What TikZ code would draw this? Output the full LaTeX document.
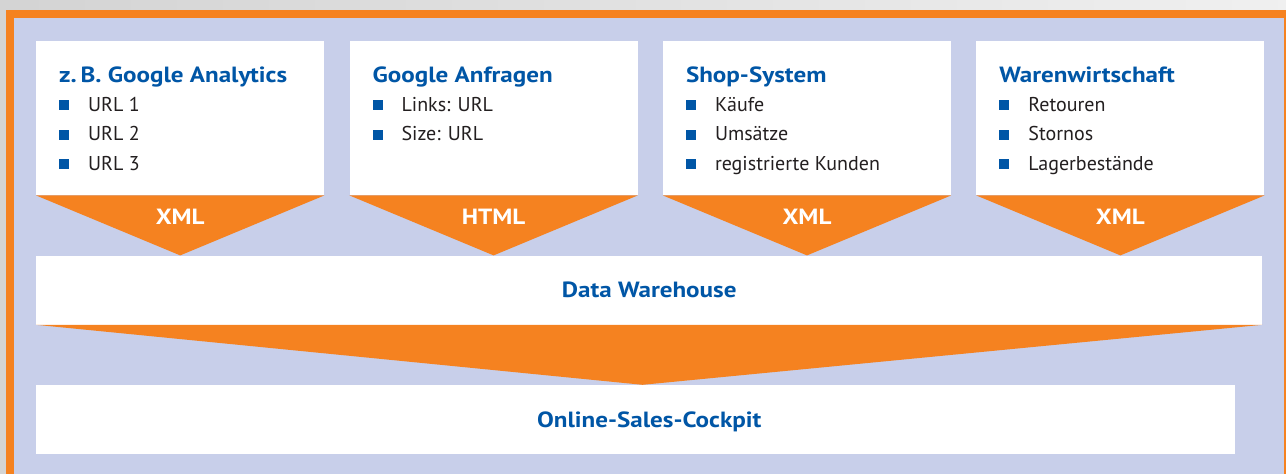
\documentclass[tikz,border=0pt]{standalone}
\usepackage{fontspec}
\setmainfont{PT Sans}
\newfontfamily\headfont{PT Sans}[FakeStretch=1.14]
\usetikzlibrary{positioning,calc}
\definecolor{wborange}{RGB}{245,130,32}
\definecolor{wblilac}{RGB}{200,207,234}
\definecolor{wbblue}{RGB}{0,86,166}
\definecolor{wbtext}{RGB}{35,31,32}
\newcommand{\sqbullet}{\raisebox{1pt}{\textcolor{wbblue}{\rule{10pt}{10pt}}}\hspace{19pt}}
\tikzset{
	source/.style={fill=white,inner sep=0,minimum width=288pt,minimum height=154pt},
	layer/.style={fill=white,inner sep=0,minimum height=69pt,text height=15pt,text depth=0pt,
		font=\headfont\fontsize{22}{26}\selectfont\bfseries,text=wbblue},
	layertext/.style={inner sep=0,text height=15pt,text depth=0pt,
		font=\headfont\fontsize{22}{26}\selectfont\bfseries,text=wbblue},
	heading/.style={inner sep=0,text height=15pt,text depth=5pt,
		font=\headfont\fontsize{22}{26}\selectfont\bfseries,text=wbblue},
	entry/.style={inner sep=0,text height=15pt,text depth=5pt,
		font=\fontsize{20}{24}\selectfont,text=wbtext},
	format/.style={inner sep=0,font=\headfont\fontsize{22}{26}\selectfont\bfseries,text=white},
	funnel/.style={fill=wborange}
}

\begin{document}
\begin{tikzpicture}[x=1pt,y=-1pt]
		\useasboundingbox (0,0) rectangle (1286,474);
		\fill[left color=black!17,right color=black!6] (0,0) rectangle (1286,474);
		\draw[wborange,line width=8pt,fill=wblilac] (10,14) rectangle (1288,490);
		
		% sources
		\node[source,anchor=north west] (ga) at (36,41) {};
		\node[source,right=25pt of ga] (gq) {};
		\node[source,right=25pt of gq] (shop) {};
		\node[source,right=25pt of shop] (ww) {};
		
		\node[layer,minimum width=1226pt,below=60pt of ga.south west,anchor=north west] (dw) {Data Warehouse};
		\node[layer,minimum width=1199pt,below=60pt of dw.south west,anchor=north west] (osc) {};
		\node[layertext] (oscl) at (dw.center |- osc.center) {Online-Sales-Cockpit};
		
		% arrows into the warehouse
		\foreach \s in {ga,gq,shop,ww}
			\fill[funnel] (\s.south west) -- (\s.south east) -- (\s.south |- dw.north) -- cycle;
		\coordinate (apex) at ($(dw.south)!0.5!(osc.north)$);
		\fill[funnel] (dw.south west) -- (dw.south east) -- (apex |- osc.north) -- cycle;
		
		\node[format] (fga) at ([yshift=-21.5pt]ga.south) {XML};
		\node[format] (fgq) at ([yshift=-21.5pt]gq.south) {HTML};
		\node[format] (fshop) at ([yshift=-21.5pt]shop.south) {XML};
		\node[format] (fww) at ([yshift=-21.5pt]ww.south) {XML};
		
		% box contents
		\node[heading,anchor=base west] (gah) at ([shift={(23pt,-41pt)}]ga.north west) {z.\,B. Google Analytics};
		\node[entry,below=9pt of gah.south west,anchor=north west] (ga1) {\sqbullet URL 1};
		\node[entry,below=9pt of ga1.south west,anchor=north west] (ga2) {\sqbullet URL 2};
		\node[entry,below=9pt of ga2.south west,anchor=north west] (ga3) {\sqbullet URL 3};
		
		\node[heading,anchor=base west] (gqh) at ([shift={(23pt,-41pt)}]gq.north west) {Google Anfragen};
		\node[entry,below=9pt of gqh.south west,anchor=north west] (gq1) {\sqbullet Links: URL};
		\node[entry,below=9pt of gq1.south west,anchor=north west] (gq2) {\sqbullet Size: URL};
		
		\node[heading,anchor=base west] (shoph) at ([shift={(23pt,-41pt)}]shop.north west) {Shop-System};
		\node[entry,below=9pt of shoph.south west,anchor=north west] (shop1) {\sqbullet Käufe};
		\node[entry,below=9pt of shop1.south west,anchor=north west] (shop2) {\sqbullet Umsätze};
		\node[entry,below=9pt of shop2.south west,anchor=north west] (shop3) {\sqbullet registrierte Kunden};
		
		\node[heading,anchor=base west] (wwh) at ([shift={(23pt,-41pt)}]ww.north west) {Warenwirtschaft};
		\node[entry,below=9pt of wwh.south west,anchor=north west] (ww1) {\sqbullet Retouren};
		\node[entry,below=9pt of ww1.south west,anchor=north west] (ww2) {\sqbullet Stornos};
		\node[entry,below=9pt of ww2.south west,anchor=north west] (ww3) {\sqbullet Lagerbestände};
\end{tikzpicture}
\end{document}
